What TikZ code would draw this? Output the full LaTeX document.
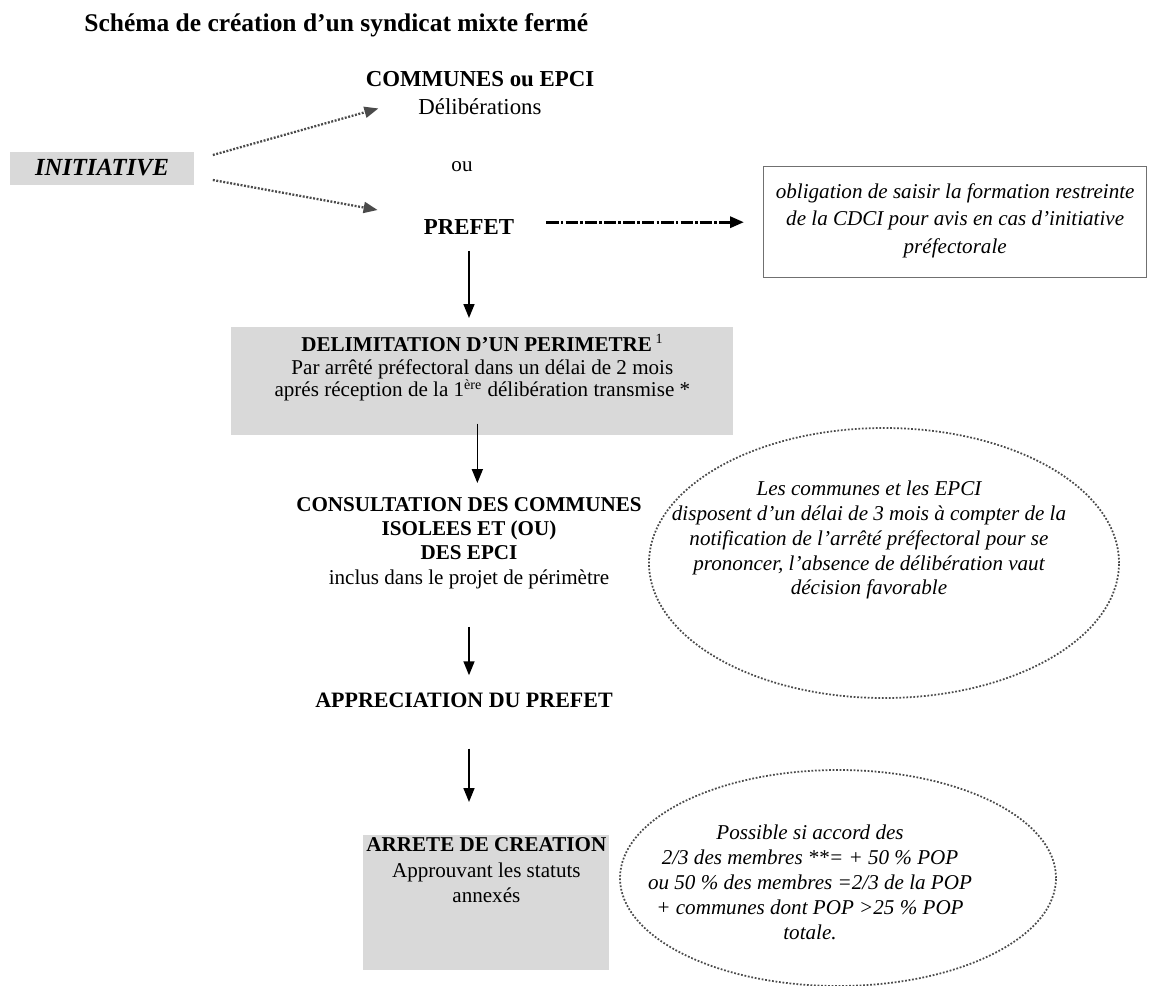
\documentclass[tikz,border=0pt]{standalone}
\usepackage{fontspec}
\setmainfont{Liberation Serif}
\usetikzlibrary{arrows.meta,positioning,calc,shapes.geometric}
\definecolor{cFill}{HTML}{D9D9D9}
\definecolor{cFrame}{HTML}{707070}
\definecolor{cDot}{HTML}{4A4A4A}

\begin{document}
\begin{tikzpicture}[x=0.2mm, y=-0.2mm, >={Triangle[length=2.8mm, width=2.2mm]},
    every node/.style={inner sep=0pt, font=\fontsize{12}{14.2}\selectfont},
    head/.style={font=\fontsize{12.5}{14.5}\selectfont\bfseries},
    note/.style={align=center, font=\fontsize{12}{14.2}\selectfont\itshape},
    flow/.style={->, line width=0.9pt},
    dotflow/.style={->, line width=1.3pt, draw=cDot, dash pattern=on 1.1pt off 0.9pt},
    dashflow/.style={->, line width=1.8pt, dash pattern=on 7pt off 1.2pt on 1.5pt off 1.2pt},
    oval/.style={ellipse, draw=cDot, line width=1pt, dash pattern=on 1pt off 1pt}]
  \useasboundingbox (0,0) rectangle (1150,985);

  \node[anchor=west, font=\fontsize{14.5}{16}\selectfont\bfseries] (title) at (84,25) {Schéma de création d'un syndicat mixte fermé};

  % initiative and the two possible origins
  \node[fill=cFill, minimum width=36.6mm, minimum height=6.6mm, font=\fontsize{14}{16}\selectfont\bfseries\itshape] (initiative) at (102,168) {INITIATIVE};
  \node[align=center, font=\fontsize{13}{16.4}\selectfont] (communes) at (480,93) {\textbf{COMMUNES ou EPCI}\\Délibérations};
  \node (ou) at (462,167) {ou};
  \node[head, font=\fontsize{13}{15}\selectfont\bfseries] (prefet) at (469,227) {PREFET};
  \node[draw=cFrame, line width=0.8pt, anchor=north west] (obligation) at (763,166)
    {\parbox[c][22.2mm][t]{76.6mm}{\centering\itshape\fontsize{12}{15.6}\selectfont\vspace*{3.4mm}%
      obligation de saisir la formation restreinte\\de la CDCI pour avis en cas d'initiative\\préfectorale}};

  % main flow
  \node[fill=cFill, anchor=north west] (delim) at (231,327)
    {\parbox[c][21.6mm][t]{100.4mm}{\centering\fontsize{12}{13}\selectfont\vspace*{1.4mm}%
      \textbf{DELIMITATION D'UN PERIMETRE}\,\textsuperscript{1}\\Par arrêté préfectoral dans un délai de 2 mois\\aprés réception de la 1\textsuperscript{ère} délibération transmise *}};
  \node[align=center, font=\fontsize{12}{13.8}\selectfont] (consult) at (469,543)
    {\textbf{CONSULTATION DES COMMUNES}\\\textbf{ISOLEES ET (OU)}\\\textbf{DES EPCI}\\inclus dans le projet de périmètre};
  \node[head] (apprec) at (464,700) {APPRECIATION DU PREFET};
  \node[fill=cFill, anchor=north west] (arrete) at (363,835)
    {\parbox[c][27mm][t]{49.2mm}{\centering\fontsize{12}{14.7}\selectfont\vspace*{0.4mm}%
      \makebox[0pt]{\bfseries ARRETE DE CREATION}\\Approuvant les statuts\\annexés}};

  % notes
  \node[oval, minimum width=94mm, minimum height=54mm] (consultOval) at (884,563) {};
  \node[note] (consultNote) at (869,540) {Les communes et les EPCI\\disposent d'un délai de 3 mois à compter de la\\notification de l'arrêté préfectoral pour se\\prononcer, l'absence de délibération vaut\\décision favorable};
  \node[oval, minimum width=87.2mm, minimum height=43.2mm] (creationOval) at (838,878) {};
  \node[note] (creationNote) at (810,882) {Possible si accord des\\2/3 des membres **= + 50 \% POP\\ou 50 \% des membres =2/3 de la POP\\+ communes dont POP >25 \% POP\\totale.};

  % connectors
  \draw[dotflow] ($(initiative.east)+(19,-13)$) -- ($(communes.south west)+(13,-7)$);
  \draw[dotflow] ($(initiative.east)+(19,12)$) -- ($(prefet.west)+(-46,-17)$);
  \draw[dashflow] ($(prefet.east |- obligation.west)+(32,0)$) -- ($(obligation.west)+(-19,0)$);
  \draw[flow] ($(prefet.south)+(0,16)$) -- ($(prefet.south |- delim.north)+(0,-9)$);
  \draw[flow] ($(delim.south)+(-5,-12)$) -- ($(delim.south |- consult.north)+(-5,-14)$);
  \draw[flow] ($(consult.south)+(0,38)$) -- ($(consult.south |- apprec.north)+(0,-17)$);
  \draw[flow] ($(apprec.south)+(5,41)$) -- ($(apprec.south |- arrete.north)+(5,-33)$);
\end{tikzpicture}
\end{document}
